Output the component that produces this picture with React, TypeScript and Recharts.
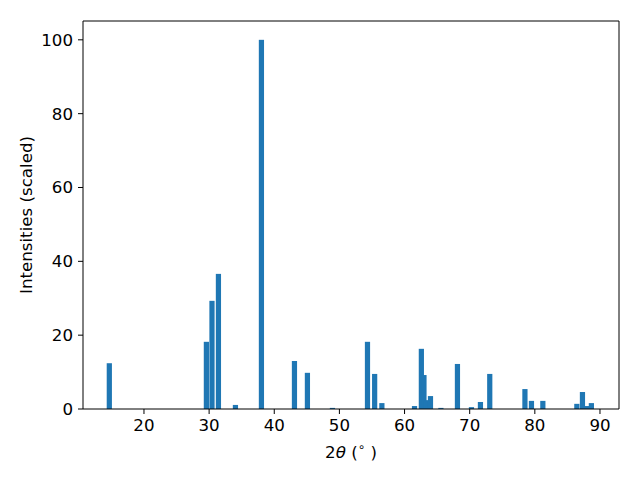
import React from "react";
import { BarChart, Bar, XAxis, YAxis, ReferenceLine } from "recharts";

// peak positions (2theta, degrees) and scaled intensities
const positions = [
  14.7, 29.6, 30.46, 31.45, 34.06, 38.05, 43.12, 45.11, 48.95, 54.33, 55.43,
  56.54, 61.55, 62.6, 63.0, 63.4, 64.0, 65.6, 68.14, 70.29, 71.67, 73.1, 78.5,
  79.5, 81.25, 86.47, 87.33, 88.0, 88.7,
];
const intensities = [
  12.4, 18.2, 29.3, 36.6, 1.1, 100, 13.0, 9.8, 0.3, 18.2, 9.5, 1.6, 0.8, 16.3,
  9.2, 2.4, 3.5, 0.3, 12.2, 0.5, 1.9, 9.5, 5.4, 2.2, 2.2, 1.4, 4.6, 0.8, 1.6,
];
const xTicks = [20, 30, 40, 50, 60, 70, 80, 90];
const yTicks = [0, 20, 40, 60, 80, 100];

const data = positions.map((x, i) => ({ x, y: intensities[i] }));

const X_DOMAIN: [number, number] = [10.64, 92.92];
const Y_DOMAIN: [number, number] = [0, 105.1];
const PLOT_W = 536;
const BAR_W = (0.8 * PLOT_W) / (X_DOMAIN[1] - X_DOMAIN[0]);

const FONT = "DejaVu Sans";
const FS = 16.67;
const tickStyle = { fill: "#000", fontSize: FS, fontFamily: FONT };

// fixed-width bar centred on the scaled x value
const PeakBar = (props: any) => {
  const { x, y, width, height } = props;
  if (height == null || height <= 0) return null;
  const cx = x + width / 2;
  return <rect x={cx - BAR_W / 2} y={y} width={BAR_W} height={height} fill="#1f77b4" />;
};

export default function App() {
  return (
    <div style={{ position: "fixed", left: 0, top: 0, background: "#fff" }}>
      <BarChart
        width={640}
        height={480}
        data={data}
        margin={{ top: 21, right: 21, bottom: 41, left: 23 }}
        barGap={0}
      >
        <XAxis
          dataKey="x"
          type="number"
          domain={X_DOMAIN}
          ticks={xTicks}
          allowDataOverflow
          height={30}
          tick={tickStyle}
          tickSize={5}
          tickMargin={5}
          axisLine={{ stroke: "#000" }}
          tickLine={{ stroke: "#000" }}
          label={(p: any) => {
            const vb = p.viewBox;
            const cx = vb.x + vb.width / 2;
            return (
              <text x={cx} y={458} textAnchor="middle" fontFamily={FONT} fontSize={FS} fill="#000">
                <tspan>2</tspan>
                <tspan fontStyle="italic">θ</tspan>
                <tspan> (</tspan>
                <tspan fontSize={12} dy={-7}>∘</tspan>
                <tspan dy={7}> )</tspan>
              </text>
            );
          }}
        />
        <YAxis
          type="number"
          domain={Y_DOMAIN}
          ticks={yTicks}
          allowDataOverflow
          width={60}
          tick={tickStyle}
          tickSize={5}
          tickMargin={5}
          axisLine={{ stroke: "#000" }}
          tickLine={{ stroke: "#000" }}
          label={(p: any) => {
            const vb = p.viewBox;
            const cy = vb.y + vb.height / 2;
            return (
              <text
                x={32}
                y={cy}
                transform={`rotate(-90 32 ${cy})`}
                textAnchor="middle"
                fontFamily={FONT}
                fontSize={FS}
                fill="#000"
              >
                Intensities (scaled)
              </text>
            );
          }}
        />
        <ReferenceLine y={Y_DOMAIN[1]} stroke="#000" ifOverflow="extendDomain" />
        <ReferenceLine x={X_DOMAIN[1]} stroke="#000" ifOverflow="extendDomain" />
        <Bar dataKey="y" barSize={4} shape={PeakBar} isAnimationActive={false} />
      </BarChart>
    </div>
  );
}
